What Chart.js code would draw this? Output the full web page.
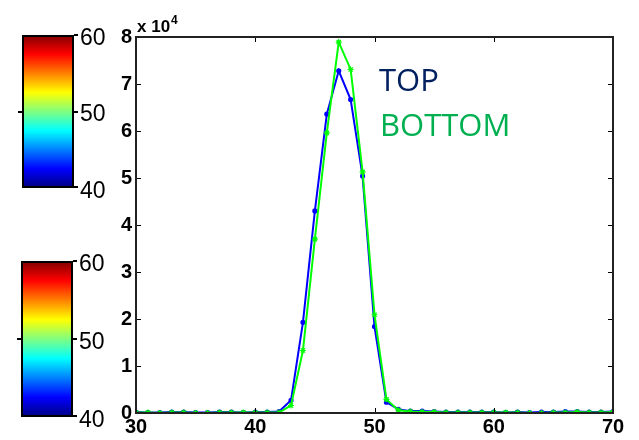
<!DOCTYPE html>
<html>
<head>
<meta charset="utf-8">
<script src="https://cdn.jsdelivr.net/npm/chart.js@4.4.1/dist/chart.umd.min.js"></script>
<style>
  html, body { margin: 0; padding: 0; background: #fff; }
  #wrap { position: relative; width: 639px; height: 440px; }
  #chart { position: absolute; left: 0; top: 0; }
  .xlab {
    position: absolute; transform: translateX(-50%);
    font-family: "Liberation Sans", Arial, sans-serif; font-weight: bold;
    font-size: 20px; line-height: 1; color: #000; white-space: nowrap;
  }
</style>
</head>
<body>
<div id="wrap">
  <canvas id="chart" width="639" height="440"></canvas>
</div>

<script>
// positions 30..70, values in units of 10^4
const xValues = [];
for (let i = 30; i <= 70; i++) xValues.push(i);

const topValues = [
  0.02, 0.01, 0.01, 0.02, 0.02, 0.01, 0.01, 0.02, 0.02, 0.01, 0.02, 0.02, 0.03,
  0.27, 1.93, 4.30, 6.36, 7.28, 6.67, 5.04, 1.84, 0.23, 0.08, 0.04, 0.04, 0.03,
  0.02, 0.02, 0.02, 0.02, 0.02, 0.01, 0.02, 0.01, 0.02, 0.02, 0.03, 0.03, 0.02, 0.02, 0.03
];
const bottomValues = [
  0.01, 0.01, 0.0, 0.01, 0.01, 0.0, 0.0, 0.01, 0.01, 0.01, 0.01, 0.01, 0.01,
  0.16, 1.33, 3.70, 5.96, 7.89, 7.31, 5.13, 2.09, 0.29, 0.06, 0.03, 0.02, 0.02,
  0.01, 0.01, 0.01, 0.01, 0.01, 0.01, 0.01, 0.0, 0.0, 0.01, 0.01, 0.02, 0.01, 0.01, 0.02
];
const xTicks = [30, 40, 50, 60, 70];
const yTicks = [0, 1, 2, 3, 4, 5, 6, 7, 8];
const colorbarTicks = ['60', '50', '40'];

const toPoints = vals => vals.map((v, i) => ({ x: xValues[i], y: v }));
const fontFamily = '"Liberation Sans", Arial, sans-serif';

// the two jet colour bars on the left
const colorbars = [
  { x: 22, y: 35, w: 52, h: 153 },
  { x: 21, y: 261, w: 52, h: 156 }
];
const jetStops = [
  [0, '#00007f'], [0.125, '#0000ff'], [0.375, '#00ffff'],
  [0.625, '#ffff00'], [0.875, '#ff0000'], [1, '#7f0000']
];

const colorbarPlugin = {
  id: 'colorbars',
  afterDraw(chart) {
    const ctx = chart.ctx;
    ctx.save();
    colorbars.forEach(b => {
      const g = ctx.createLinearGradient(0, b.y + b.h, 0, b.y);
      jetStops.forEach(s => g.addColorStop(s[0], s[1]));
      ctx.fillStyle = g;
      ctx.fillRect(b.x, b.y, b.w, b.h);
      ctx.lineWidth = 2;
      ctx.strokeStyle = '#000';
      ctx.strokeRect(b.x + 1, b.y + 1, b.w - 2, b.h - 2);
      ctx.fillStyle = '#000';
      const mid = Math.round(b.y + b.h / 2) - 1;
      ctx.fillRect(b.x + b.w, b.y - 1, 4, 2);
      ctx.fillRect(b.x + b.w, mid, 4, 2);
      ctx.fillRect(b.x - 4, mid, 4, 2);
      ctx.fillRect(b.x + b.w, b.y + b.h - 2, 4, 2);
      ctx.font = '23px ' + fontFamily;
      ctx.textAlign = 'left';
      ctx.textBaseline = 'alphabetic';
      colorbarTicks.forEach((t, i) => {
        ctx.fillText(t, b.x + b.w + 6, b.y + 9.5 + i * (b.h / 2));
      });
    });
    ctx.font = '31px "Open Sans", sans-serif';
    ctx.fillStyle = '#002060';
    ctx.fillText('TOP', 379, 90.5);
    ctx.fillStyle = '#00b050';
    ctx.fillText('BOTTOM', 380, 135.5);
    ctx.restore();
  }
};

// matlab style box, inward ticks and the exponent label
const boxPlugin = {
  id: 'matlabBox',
  afterDraw(chart) {
    const { ctx, chartArea: a, scales } = chart;
    ctx.save();
    ctx.strokeStyle = '#000';
    ctx.lineWidth = 1;
    xTicks.forEach(t => {
      const px = Math.round(scales.x.getPixelForValue(t)) + 0.5;
      ctx.beginPath();
      ctx.moveTo(px, a.bottom); ctx.lineTo(px, a.bottom - 5);
      ctx.moveTo(px, a.top); ctx.lineTo(px, a.top + 5);
      ctx.stroke();
    });
    yTicks.forEach(t => {
      const py = Math.round(scales.y.getPixelForValue(t)) + 0.5;
      ctx.beginPath();
      ctx.moveTo(a.left, py); ctx.lineTo(a.left + 5, py);
      ctx.moveTo(a.right, py); ctx.lineTo(a.right - 5, py);
      ctx.stroke();
    });
    ctx.lineWidth = 2;
    ctx.strokeStyle = '#222';
    ctx.strokeRect(a.left, a.top, a.right - a.left, a.bottom - a.top);

    ctx.fillStyle = '#000';
    ctx.textAlign = 'left';
    ctx.textBaseline = 'alphabetic';
    ctx.font = 'bold 17px ' + fontFamily;
    ctx.fillText('x 10', a.left + 1, a.top - 5);
    const w = ctx.measureText('x 10').width;
    ctx.font = 'bold 12px ' + fontFamily;
    ctx.fillText('4', a.left + 2 + w, a.top - 13);
    ctx.restore();
  }
};

const chart = new Chart(document.getElementById('chart'), {
  type: 'line',
  data: {
    datasets: [
      {
        label: 'TOP',
        data: toPoints(topValues),
        borderColor: '#0000ff',
        backgroundColor: '#0000ff',
        borderWidth: 2,
        pointRadius: 1.6,
        pointStyle: 'circle',
        tension: 0,
        order: 1
      },
      {
        label: 'BOTTOM',
        data: toPoints(bottomValues),
        borderColor: '#00ff00',
        backgroundColor: '#00ff00',
        borderWidth: 2,
        pointRadius: 3,
        pointStyle: 'star',
        pointBorderWidth: 1.2,
        tension: 0,
        order: 0
      }
    ]
  },
  plugins: [boxPlugin, colorbarPlugin],
  options: {
    responsive: false,
    animation: false,
    layout: { padding: { left: 110, right: 26, top: 37, bottom: 0 } },
    plugins: {
      legend: { display: false },
      tooltip: { enabled: false }
    },
    scales: {
      x: {
        type: 'linear',
        min: 30,
        max: 70,
        afterBuildTicks: s => { s.ticks = xTicks.map(v => ({ value: v })); },
        afterFit: s => { s.height = 27; },
        grid: { display: false, drawTicks: false },
        border: { display: false },
        ticks: { display: false }
      },
      y: {
        min: 0,
        max: 8,
        afterBuildTicks: s => { s.ticks = yTicks.map(v => ({ value: v })); },
        afterFit: s => { s.width = 26; },
        grid: { display: false, drawTicks: false },
        border: { display: false },
        ticks: {
          autoSkip: false,
          padding: 4,
          color: '#000',
          font: { family: fontFamily, size: 20, weight: 'bold' }
        }
      }
    }
  }
});

// x tick labels as text placed from the x scale
const wrap = document.getElementById('wrap');
xTicks.forEach(t => {
  const el = document.createElement('div');
  el.className = 'xlab';
  el.textContent = String(t);
  el.style.left = chart.scales.x.getPixelForValue(t) + 'px';
  el.style.top = (chart.chartArea.bottom + 3) + 'px';
  wrap.appendChild(el);
});
</script>
</body>
</html>
